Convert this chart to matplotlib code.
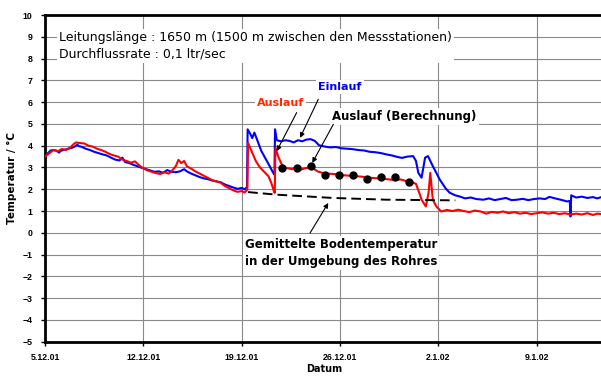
import matplotlib
matplotlib.use("Agg")
import matplotlib.pyplot as plt

# days since 5.12.01
week_ticks = [0, 7, 14, 21, 28, 35]
week_labels = ["5.12.01", "12.12.01", "19.12.01", "26.12.01", "2.1.02", "9.1.02"]

# Einlauf (blue)
blue_day = [0.0, 0.2, 0.4, 0.6, 0.8, 1.0, 1.1, 1.3, 1.6, 1.9,
            2.1, 2.3, 2.4, 2.6, 2.9, 3.2, 3.5, 3.8, 4.1, 4.4,
            4.7, 5.0, 5.3, 5.5, 5.7, 6.0, 6.3, 6.6, 6.9, 7.2,
            7.5, 7.8, 8.1, 8.4, 8.7, 9.0, 9.3, 9.6, 9.9, 10.1,
            10.4, 10.7, 11.0, 11.3, 11.6, 11.9, 12.2, 12.5, 12.8, 13.1,
            13.4, 13.7, 14.0, 14.2, 14.38, 14.42, 14.6, 14.75, 14.9, 15.05,
            15.4, 15.7, 16.0, 16.2, 16.33, 16.37, 16.5, 16.8, 17.1, 17.4,
            17.7, 18.0, 18.3, 18.6, 18.9, 19.2, 19.5, 19.9, 20.3, 20.7,
            21.1, 21.5, 21.9, 22.3, 22.7, 23.1, 23.5, 23.9, 24.3, 24.7,
            25.1, 25.4, 25.8, 26.2, 26.4, 26.57, 26.8, 27.05, 27.26, 27.6,
            28.1, 28.5, 28.8, 29.2, 29.5, 29.9, 30.3, 30.7, 31.2, 31.6,
            32.0, 32.4, 32.8, 33.2, 33.6, 34.0, 34.4, 34.8, 35.2, 35.6,
            35.9, 36.3, 36.7, 37.15, 37.35, 37.4, 37.45, 37.8, 38.2, 38.6,
            39.0, 39.3, 39.6]
blue_temp = [3.55, 3.65, 3.78, 3.80, 3.78, 3.68, 3.76, 3.80, 3.85, 3.90,
             3.95, 4.05, 3.98, 3.95, 3.86, 3.80, 3.72, 3.66, 3.60, 3.55,
             3.45, 3.36, 3.32, 3.45, 3.25, 3.20, 3.12, 3.05, 2.98, 2.92,
             2.86, 2.80, 2.82, 2.76, 2.88, 2.80, 2.78, 2.82, 2.92, 2.82,
             2.72, 2.64, 2.56, 2.50, 2.46, 2.40, 2.36, 2.32, 2.22, 2.15,
             2.08, 2.02, 2.06, 2.00, 2.10, 4.75, 4.55, 4.35, 4.60, 4.35,
             3.75, 3.40, 3.05, 2.80, 2.67, 4.75, 4.25, 4.20, 4.25, 4.22,
             4.15, 4.25, 4.20, 4.28, 4.30, 4.22, 4.02, 3.96, 3.92, 3.94,
             3.88, 3.86, 3.84, 3.80, 3.78, 3.72, 3.70, 3.66, 3.60, 3.55,
             3.48, 3.44, 3.50, 3.52, 3.30, 2.75, 2.53, 3.45, 3.52, 3.06,
             2.44, 2.05, 1.84, 1.72, 1.67, 1.58, 1.62, 1.55, 1.52, 1.58,
             1.50, 1.55, 1.60, 1.50, 1.52, 1.56, 1.50, 1.55, 1.58, 1.55,
             1.65, 1.58, 1.52, 1.44, 1.46, 0.75, 1.72, 1.62, 1.66, 1.60,
             1.64, 1.58, 1.64]

# Auslauf (red)
red_day = [0.0, 0.3, 0.6, 0.9, 1.2, 1.5, 1.8, 2.0, 2.2, 2.5,
           2.8, 3.1, 3.4, 3.7, 4.0, 4.3, 4.6, 4.9, 5.2, 5.5,
           5.8, 6.1, 6.4, 6.7, 7.0, 7.3, 7.6, 7.9, 8.2, 8.5,
           8.8, 9.0, 9.3, 9.5, 9.7, 9.9, 10.1, 10.4, 10.7, 11.0,
           11.3, 11.6, 11.9, 12.2, 12.5, 12.8, 13.1, 13.4, 13.7, 14.0,
           14.2, 14.4, 14.45, 14.6, 14.8, 15.0, 15.3, 15.6, 15.9, 16.1,
           16.3, 16.35, 16.4, 16.6, 16.8, 17.0, 17.3, 17.6, 17.9, 18.2,
           18.5, 18.8, 19.1, 19.4, 19.7, 20.1, 20.5, 20.9, 21.3, 21.7,
           22.1, 22.5, 22.9, 23.3, 23.7, 24.1, 24.5, 24.9, 25.3, 25.7,
           26.1, 26.4, 26.6, 26.8, 27.1, 27.3, 27.42, 27.6, 27.85, 28.2,
           28.6, 29.0, 29.4, 29.8, 30.2, 30.6, 31.0, 31.4, 31.8, 32.2,
           32.6, 33.0, 33.4, 33.8, 34.2, 34.6, 35.0, 35.4, 35.8, 36.2,
           36.6, 37.0, 37.4, 37.8, 38.2, 38.6, 39.0, 39.3, 39.6]
red_temp = [3.50, 3.65, 3.80, 3.74, 3.85, 3.80, 3.92, 4.05, 4.15, 4.12,
            4.10, 4.00, 3.96, 3.86, 3.80, 3.72, 3.62, 3.55, 3.50, 3.36,
            3.30, 3.22, 3.28, 3.10, 2.96, 2.86, 2.80, 2.74, 2.70, 2.78,
            2.72, 2.82, 3.05, 3.35, 3.20, 3.30, 3.05, 2.95, 2.82, 2.72,
            2.62, 2.52, 2.42, 2.36, 2.30, 2.15, 2.05, 1.95, 1.88, 1.92,
            1.85, 1.98, 4.13, 3.90, 3.60, 3.30, 3.00, 2.80, 2.60, 2.30,
            1.90, 1.83, 3.90, 3.50, 3.20, 3.00, 2.96, 2.92, 2.98, 2.90,
            2.96, 3.00, 2.95, 2.82, 2.76, 2.72, 2.70, 2.68, 2.64, 2.62,
            2.60, 2.58, 2.55, 2.52, 2.50, 2.48, 2.45, 2.42, 2.45, 2.38,
            2.32, 2.25, 1.90, 1.52, 1.21, 1.84, 2.75, 1.52, 1.21, 0.98,
            1.05, 1.00, 1.06, 1.00, 0.95, 1.02, 0.98, 0.88, 0.96, 0.92,
            0.98, 0.90, 0.95, 0.88, 0.92, 0.86, 0.90, 0.94, 0.88, 0.92,
            0.86, 0.90, 0.84, 0.88, 0.84, 0.90, 0.82, 0.88, 0.86]

# Auslauf (Berechnung), daily points
calc_day = [16.9, 17.9, 18.9, 19.9, 20.9, 21.9, 22.9, 23.9, 24.9, 25.9]
calc_temp = [2.96, 2.96, 3.06, 2.66, 2.66, 2.64, 2.46, 2.54, 2.54, 2.34]

# Gemittelte Bodentemperatur
soil_day = [14.45, 16.5, 20.5, 24.3, 29.2]
soil_temp = [1.87, 1.75, 1.60, 1.52, 1.49]

plt.rcParams['font.family'] = ['Liberation Sans', 'DejaVu Sans']

fig = plt.figure(figsize=(6.01, 3.76), dpi=100)
ax = fig.add_axes([0.0749, 0.0912, 0.9251, 0.8689])

ax.plot(blue_day, blue_temp, color='#0000ff', lw=1.5, zorder=3)
ax.plot(red_day, red_temp, color='#ff0000', lw=1.5, zorder=3)
ax.plot(soil_day, soil_temp, color='black', lw=1.4, dashes=(5, 2.6), zorder=4)
ax.plot(calc_day, calc_temp, 'o', color='black', ms=5, zorder=5)

ax.set_xlim(0, 39.57)
ax.set_ylim(-5, 10)
ax.set_xticks(week_ticks)
ax.set_xticklabels(week_labels)
ax.set_yticks(range(-5, 11))
ax.tick_params(labelsize=6.3, length=3, width=1, direction='out', pad=6)
for lab in ax.get_xticklabels() + ax.get_yticklabels():
    lab.set_fontweight('bold')
ax.tick_params(axis='x', pad=5)

ax.grid(True, color='#8a8a8a', lw=0.8)
ax.set_axisbelow(True)
for s in ['left', 'bottom', 'top']:
    ax.spines[s].set_linewidth(2)
ax.spines['right'].set_visible(False)

ax.set_ylabel('Temperatur / °C', fontsize=7.5, fontweight='bold',
              family='DejaVu Sans')
ax.yaxis.set_label_coords(-0.0504, 0.50)
ax.set_xlabel('Datum', fontsize=7, fontweight='bold', family='DejaVu Sans')
ax.xaxis.set_label_coords(0.502, -0.068)

box = dict(facecolor='white', edgecolor='none', pad=1.5)
ax.text(1.0, 8.58, 'Leitungslänge : 1650 m (1500 m zwischen den Messstationen)\n'
        'Durchflussrate : 0,1 ltr/sec', fontsize=9, family='DejaVu Sans',
        va='center', ha='left', linespacing=1.3, bbox=box, zorder=6)

ax.text(19.43, 6.68, 'Einlauf', color='#0000ff', fontsize=8, fontweight='bold',
        va='center', ha='left', bbox=box, zorder=6, family='DejaVu Sans')
ax.text(15.07, 5.98, 'Auslauf', color='#ff2a00', fontsize=8, fontweight='bold',
        va='center', ha='left', bbox=box, zorder=6, family='DejaVu Sans')
ax.text(20.43, 5.33, 'Auslauf (Berechnung)', color='black', fontsize=8.5,
        fontweight='bold', va='center', ha='left', bbox=box, zorder=6,
        family='DejaVu Sans')
ax.text(14.23, -0.92, 'Gemittelte Bodentemperatur\nin der Umgebung des Rohres',
        color='black', fontsize=8.5, fontweight='bold', va='center', ha='left',
        linespacing=1.35, bbox=box, zorder=6, family='DejaVu Sans')

arrow = dict(arrowstyle='-|>', color='black', lw=0.8, mutation_scale=7,
             shrinkA=0, shrinkB=0)
ax.annotate('', xy=(18.15, 4.36), xytext=(19.45, 6.13), arrowprops=arrow, zorder=7)
ax.annotate('', xy=(16.49, 3.75), xytext=(17.91, 5.52), arrowprops=arrow, zorder=7)
ax.annotate('', xy=(19.02, 3.21), xytext=(20.52, 4.98), arrowprops=arrow, zorder=7)
ax.annotate('', xy=(20.16, 1.37), xytext=(18.86, -0.01), arrowprops=arrow, zorder=7)

fig.savefig('out.png', dpi=100)
